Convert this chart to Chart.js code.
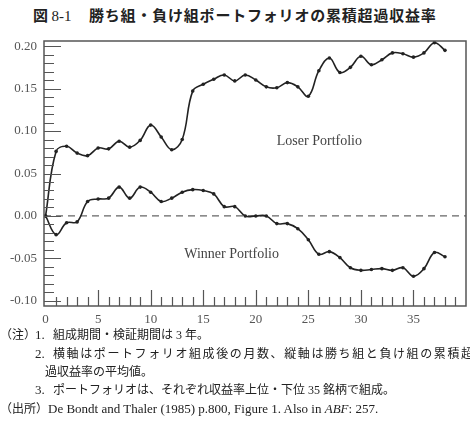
<!DOCTYPE html>
<html>
<head>
<meta charset="utf-8">
<script src="https://cdn.jsdelivr.net/npm/chart.js@4.4.0/dist/chart.umd.min.js"></script>
<style>
  body { margin: 0; background: #fff; }
  #page { position: relative; width: 470px; height: 430px; overflow: hidden; }
  #chart { position: absolute; left: 0; top: 0; }
  .t { position: absolute; white-space: nowrap; font-family: "Noto Sans CJK JP", sans-serif; font-weight: bold; font-size: 15px; color: #222; line-height: 20px; top: 5px; }
  .n { position: absolute; white-space: nowrap; font-family: "Liberation Serif", "Noto Sans CJK JP", serif; font-size: 12px; color: #222; line-height: 18px; }
</style>
</head>
<body>
<div id="page">
  <div class="t" style="left:33px;">図 <span style="font-family:'Liberation Serif',serif; font-weight:normal;">8-1</span></div>
  <div class="t" style="left:89px; letter-spacing:0.8px;">勝ち組・負け組ポートフォリオの累積超過収益率</div>
  <canvas id="chart" width="470" height="330"></canvas>
  <div class="n" style="left:0px; top:326px;">（注）</div>
  <div class="n" style="left:35px; top:326px; font-size:13px;">1.</div>
  <div class="n" style="left:53px; top:326px;">組成期間・検証期間は 3 年。</div>
  <div class="n" style="left:35px; top:345px; font-size:13px;">2.</div>
  <div class="n" style="left:53px; top:345px; letter-spacing:1.6px;">横軸はポートフォリオ組成後の月数、縦軸は勝ち組と負け組の累積超</div>
  <div class="n" style="left:45px; top:363px;">過収益率の平均値。</div>
  <div class="n" style="left:35px; top:381px; font-size:13px;">3.</div>
  <div class="n" style="left:53px; top:381px;">ポートフォリオは、それぞれ収益率上位・下位 35 銘柄で組成。</div>
  <div class="n" style="left:0px; top:400px;">（出所）</div>
  <div class="n" style="left:48px; top:400px; font-size:13px;">De Bondt and Thaler (1985) p.800, Figure 1. Also in <i>ABF</i>: 257.</div>
</div>
<script>
'use strict';

// months after portfolio formation
let months = [0, 1, 2, 3, 4, 5, 6, 7, 8, 9, 10, 11, 12, 13, 14, 15, 16, 17, 18, 19,
  20, 21, 22, 23, 24, 25, 26, 27, 28, 29, 30, 31, 32, 33, 34, 35, 36, 37, 38];

let loser = [0.000, 0.076, 0.082, 0.074, 0.071, 0.080, 0.079, 0.088, 0.081, 0.089,
  0.107, 0.093, 0.078, 0.090, 0.147, 0.155, 0.161, 0.166, 0.159, 0.166,
  0.160, 0.152, 0.151, 0.157, 0.152, 0.141, 0.171, 0.186, 0.169, 0.175,
  0.188, 0.178, 0.184, 0.192, 0.191, 0.187, 0.192, 0.204, 0.195];

let winner = [0.000, -0.022, -0.008, -0.007, 0.017, 0.020, 0.021, 0.034, 0.021, 0.034,
  0.028, 0.017, 0.021, 0.028, 0.031, 0.030, 0.026, 0.011, 0.011, 0.000,
  0.000, 0.000, -0.009, -0.009, -0.015, -0.028, -0.045, -0.042, -0.049, -0.061,
  -0.064, -0.063, -0.062, -0.064, -0.061, -0.071, -0.062, -0.043, -0.048];

let xTicks = [0, 5, 10, 15, 20, 25, 30, 35];
let yTicks = [-0.10, -0.05, 0.00, 0.05, 0.10, 0.15, 0.20];

let seriesLabels = ['Loser Portfolio', 'Winner Portfolio'];

// small inward tick marks
let xMinor = [];
for (let i = 1; i < 40; i++) xMinor.push(i);
let yMinor = [];
for (let i = -10; i <= 20; i++) yMinor.push(i / 100);

let lineColor = '#222';
let axisColor = '#555';

function toPoints(vals) {
  return months.map((m, i) => ({ x: m, y: vals[i] }));
}

let framePlugin = {
  id: 'frame',
  beforeDatasetsDraw(chart) {
    let ctx = chart.ctx;
    let area = chart.chartArea;
    let y0 = chart.scales.y.getPixelForValue(0);
    ctx.save();
    ctx.strokeStyle = '#666';
    ctx.lineWidth = 1.3;
    ctx.setLineDash([7, 5]);
    ctx.beginPath();
    ctx.moveTo(area.left, y0);
    ctx.lineTo(area.right, y0);
    ctx.stroke();
    ctx.restore();
  },
  afterDraw(chart) {
    let ctx = chart.ctx;
    let area = chart.chartArea;
    let xs = chart.scales.x;
    let ys = chart.scales.y;
    ctx.save();
    ctx.strokeStyle = axisColor;
    ctx.lineWidth = 1.2;
    ctx.beginPath();
    xMinor.forEach(v => {
      let px = Math.round(xs.getPixelForValue(v)) + 0.5;
      let len = xTicks.includes(v) ? 16 : 9;
      ctx.moveTo(px, area.bottom);
      ctx.lineTo(px, area.bottom - len);
    });
    yMinor.forEach(v => {
      let py = Math.round(ys.getPixelForValue(v)) + 0.5;
      let major = yTicks.some(t => Math.abs(t - v) < 1e-6);
      ctx.moveTo(area.left, py);
      ctx.lineTo(area.left + (major ? 17 : 10), py);
    });
    ctx.stroke();

    ctx.lineWidth = 1.5;
    ctx.strokeRect(area.left, area.top, area.right - area.left, area.bottom - area.top);

    ctx.fillStyle = '#444';
    ctx.font = '14px "Liberation Serif", serif';
    ctx.textAlign = 'left';
    ctx.textBaseline = 'middle';
    ctx.fillText(seriesLabels[0], xs.getPixelForValue(22.0), ys.getPixelForValue(0.088));
    ctx.fillText(seriesLabels[1], xs.getPixelForValue(13.2), ys.getPixelForValue(-0.045));
    ctx.restore();
  }
};

let tickFont = { family: '"Liberation Serif", serif', size: 13 };

new Chart(document.getElementById('chart'), {
  type: 'line',
  data: {
    datasets: [
      {
        label: seriesLabels[0],
        data: toPoints(loser),
        borderColor: lineColor,
        backgroundColor: lineColor,
        borderWidth: 1.6,
        pointRadius: 1.8,
        pointBorderWidth: 0,
        tension: 0.4
      },
      {
        label: seriesLabels[1],
        data: toPoints(winner),
        borderColor: lineColor,
        backgroundColor: lineColor,
        borderWidth: 1.6,
        pointRadius: 1.8,
        pointBorderWidth: 0,
        tension: 0.4
      }
    ]
  },
  options: {
    responsive: false,
    animation: false,
    devicePixelRatio: 1,
    layout: { padding: { top: 41, right: 2, left: 0, bottom: 0 } },
    plugins: {
      legend: { display: false },
      tooltip: { enabled: false }
    },
    scales: {
      x: {
        type: 'linear',
        min: -0.15,
        max: 40,
        grid: { display: false, drawTicks: false },
        border: { display: false },
        afterBuildTicks: axis => { axis.ticks = xTicks.map(v => ({ value: v })); },
        afterFit: axis => { axis.height = 24; },
        ticks: {
          font: tickFont,
          color: '#555',
          padding: 6,
          maxRotation: 0,
          callback: v => String(v)
        }
      },
      y: {
        type: 'linear',
        min: -0.106,
        max: 0.206,
        grid: { display: false, drawTicks: false },
        border: { display: false },
        afterBuildTicks: axis => { axis.ticks = yTicks.map(v => ({ value: v })); },
        afterFit: axis => { axis.width = 44; },
        ticks: {
          font: tickFont,
          color: '#555',
          padding: 7,
          callback: v => v.toFixed(2)
        }
      }
    }
  },
  plugins: [framePlugin]
});
</script>
</body>
</html>
